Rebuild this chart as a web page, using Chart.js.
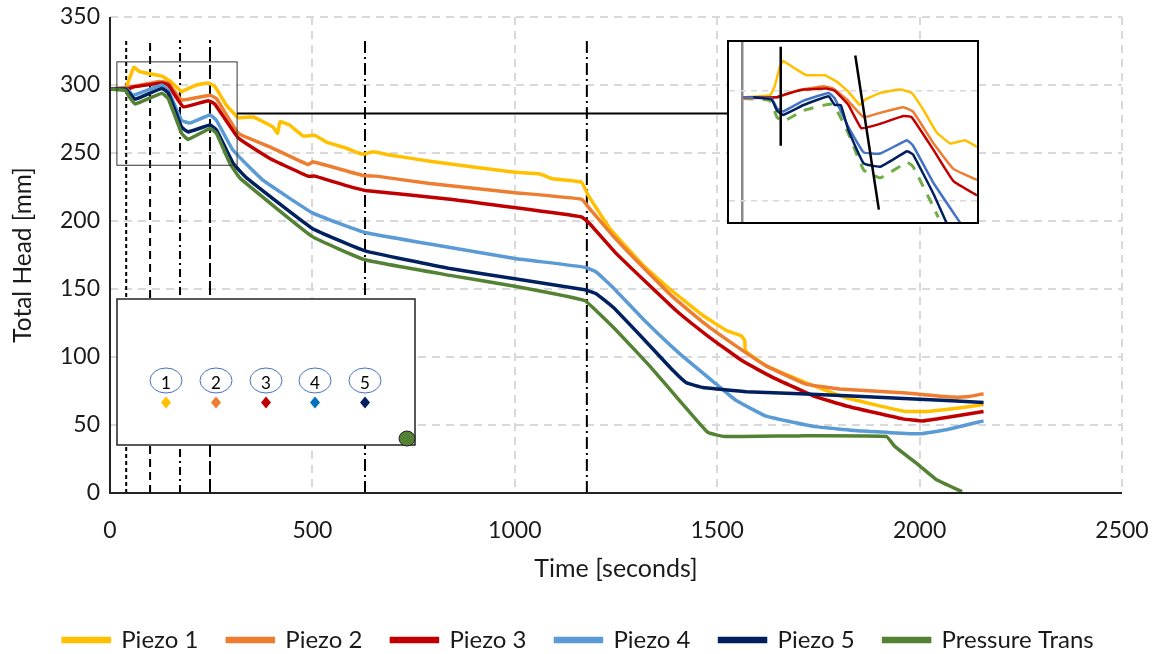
<!DOCTYPE html>
<html>
<head>
<meta charset="utf-8">
<script src="https://cdn.jsdelivr.net/npm/chart.js@4"></script>
<style>
  html, body { margin: 0; padding: 0; background: #fff; }
  #wrap { position: relative; width: 1157px; height: 654px; overflow: hidden; }
  #inset { position: absolute; left: 727px; top: 40px; width: 252px; height: 184px; box-sizing: border-box; border: 2px solid #000; background: #fff; }
</style>
</head>
<body>
<div id="wrap">
  <canvas id="main" width="1157" height="654"></canvas>
  <div id="inset"><canvas id="zoomed" width="248" height="180"></canvas></div>
</div>
<script>
// values
const names = ["Piezo 1", "Piezo 2", "Piezo 3", "Piezo 4", "Piezo 5", "Pressure Trans"];
const colors = ["#FFC000", "#ED7D31", "#C00000", "#5B9BD5", "#002060", "#548235"];
const xTicks = [0, 500, 1000, 1500, 2000, 2500];

const p1Time = [0, 35, 41, 59, 72, 86, 128, 152, 177, 183, 214, 243, 259, 288, 317, 354, 403, 414, 420, 444, 477, 506, 535, 584, 625, 650, 691, 790, 995, 1062, 1094, 1165, 1181, 1235, 1317, 1383, 1465, 1523, 1560, 1568, 1570, 1621, 1728, 1819, 1963, 2016, 2082, 2158];
const p1Head = [297, 297, 299, 313, 310, 309, 306.5, 302, 295, 296, 300, 301.5, 299, 285, 276, 276.5, 269, 264.5, 273, 270.5, 262.5, 263, 258, 253.5, 249, 251, 248.5, 244, 236, 234.5, 231, 228.5, 219, 194.5, 167.5, 150, 130.5, 119.5, 115.5, 112, 104.5, 93.5, 80, 70, 60, 60, 62, 65];
const p2Time = [0, 49, 123, 144, 177, 247, 263, 317, 395, 489, 501, 625, 658, 790, 995, 1165, 1185, 1243, 1317, 1391, 1465, 1547, 1621, 1720, 1802, 1967, 2082, 2123, 2158];
const p2Head = [297, 298.5, 302.5, 301.5, 289, 292.5, 290, 264.5, 254.5, 241.5, 243.5, 233.5, 233, 227.5, 221, 216, 209, 189, 166, 144, 125.5, 108, 93.5, 80, 76.5, 73.5, 70.5, 71, 73];
const p3Time = [0, 45, 57, 128, 144, 181, 243, 259, 317, 395, 489, 506, 584, 630, 840, 1165, 1185, 1251, 1333, 1399, 1481, 1563, 1637, 1737, 1819, 1958, 2008, 2066, 2158];
const p3Head = [297, 297, 298.5, 301.5, 300, 284, 288.5, 286, 261, 246, 233, 233, 226, 222.5, 216, 203, 198, 176, 152.5, 134, 114.5, 97, 85, 71.5, 64, 54.5, 53, 55.5, 60];
const p4Time = [0, 35, 45, 57, 128, 144, 177, 197, 247, 263, 304, 378, 500, 630, 840, 1000, 1173, 1201, 1243, 1325, 1407, 1498, 1547, 1621, 1737, 1860, 2000, 2066, 2158];
const p4Head = [297, 297, 296, 292.5, 300, 296, 274, 272, 278, 274, 252, 230, 206, 191.5, 180.5, 172.5, 166, 162.5, 151, 125.5, 102.5, 80, 68, 56.5, 49, 45.5, 43.5, 46.5, 53];
const p5Time = [0, 38, 45, 62, 128, 144, 177, 193, 247, 263, 304, 338, 500, 630, 840, 1000, 1173, 1201, 1243, 1325, 1391, 1424, 1465, 1572, 1704, 1819, 2000, 2158];
const p5Head = [297, 297, 295, 289.5, 297.5, 294, 269, 265.5, 270.5, 267, 242.5, 231.5, 194.5, 178, 165, 157.5, 149.5, 146.5, 136.5, 111, 90, 81, 77.5, 74.5, 73, 71.5, 69, 66.5];
const p6Time = [0, 38, 45, 62, 128, 144, 177, 193, 247, 263, 296, 321, 500, 630, 840, 1000, 1173, 1201, 1251, 1333, 1407, 1477, 1519, 1700, 1918, 1938, 2000, 2041, 2105];
const p6Head = [297, 296, 292.5, 286, 294, 290, 264.5, 260, 268, 264.5, 242.5, 231.5, 188.5, 171.5, 160, 152, 141.5, 134, 119.5, 93.5, 68, 44.5, 41.5, 42, 41.5, 34.5, 20, 10, 1];

const z1Time = [2, 37, 43, 50, 54, 70, 85, 109, 125, 140, 155, 162, 182, 208, 223, 239, 256, 274, 293, 309];
const z1Head = [297, 298, 302, 311, 313.5, 310, 307, 307, 304, 299.5, 293.5, 296, 299, 300.5, 299, 291, 281, 276, 277.5, 274.5];
const z2Time = [2, 46, 72, 107, 120, 138, 160, 182, 212, 225, 252, 278, 309];
const z2Head = [296.5, 297, 300, 302, 301, 296, 288, 290, 292.5, 290.5, 276, 264.5, 259.5];
const z3Time = [2, 46, 54, 81, 111, 122, 140, 157, 182, 212, 223, 252, 278, 309];
const z3Head = [297, 297, 298, 300.5, 301, 300, 293.5, 283, 285, 288.5, 288, 273, 259, 252.5];
const z4Time = [2, 39, 46, 54, 81, 114, 122, 140, 160, 182, 217, 225, 252, 287];
const z4Head = [297, 296.5, 292, 290.5, 295.5, 299, 296.5, 283.5, 272, 271.5, 277.5, 275, 258, 240];
const z5Time = [15, 39, 46, 54, 81, 114, 122, 130, 140, 160, 182, 217, 225, 252, 269];
const z5Head = [297, 296, 291, 289, 293.5, 297.5, 293.5, 293.5, 282, 267, 265.5, 272.5, 271, 253, 240];
const z6Time = [2, 37, 46, 54, 81, 116, 125, 140, 160, 182, 217, 225, 252, 258];
const z6Head = [296.5, 295.5, 288, 286, 291, 294, 291, 280.5, 264, 260.5, 267.5, 265.5, 247, 242.5];
const zoomColors = ["#FFC000", "#ED7D31", "#C00000", "#4472C4", "#002060", "#70AD47"];

// vertical test markers
const eventTimes = [40, 99, 173, 247, 630, 1178];
const eventDashes = [[4, 3], [8, 5], [8, 4, 2, 4], [14, 4], [12, 4, 2, 4], [12, 4, 2, 4]];
const eventTop = 333;

const sensorLabels = ["1", "2", "3", "4", "5"];
const sensorColors = ["#FFC000", "#ED7D31", "#C00000", "#0070C0", "#002060"];
const sensorX = [166, 216, 266, 315, 365];

const FONT = "Lato, 'Open Sans', sans-serif";
const INK = "#1a1a1a";

function zip(xs, ys) {
    return xs.map((x, i) => ({ x: x, y: ys[i] }));
}

const mainSets = [
    [p1Time, p1Head], [p2Time, p2Head], [p3Time, p3Head],
    [p4Time, p4Head], [p5Time, p5Head], [p6Time, p6Head]
].map((s, i) => ({
    label: names[i],
    data: zip(s[0], s[1]),
    borderColor: colors[i],
    backgroundColor: colors[i],
    borderWidth: 3.5,
    pointRadius: 0,
    tension: 0.1,
    order: 10 - i
}));

const eventSets = eventTimes.map((t, i) => ({
    label: "event" + i,
    data: [{ x: t, y: 0 }, { x: t, y: eventTop }],
    borderColor: "#000",
    borderWidth: 2,
    borderDash: eventDashes[i],
    pointRadius: 0,
    order: 20
}));

// axis lines, boxes and the sensor sketch, painted on top of the curves
const overlay = {
    id: "overlay",
    afterLayout(chart) {
        // legend sits lower than the layout puts it
        chart.legend.top += 9;
        chart.legend.bottom += 9;
    },
    afterDraw(chart) {
        const c = chart.ctx, xs = chart.scales.x, ys = chart.scales.y, area = chart.chartArea;
        c.save();

        c.strokeStyle = "#222";
        c.lineWidth = 2;
        c.beginPath();
        c.moveTo(area.left, area.top);
        c.lineTo(area.left, area.bottom);
        c.lineTo(area.right, area.bottom);
        c.stroke();

        // outline of the region shown in the inset
        const l = xs.getPixelForValue(17), r = xs.getPixelForValue(314);
        const t = ys.getPixelForValue(317), b = ys.getPixelForValue(241);
        c.strokeStyle = "#333";
        c.lineWidth = 1;
        c.strokeRect(l, t, r - l, b - t);

        const my = ys.getPixelForValue(279);
        c.strokeStyle = "#000";
        c.lineWidth = 2;
        c.beginPath();
        c.moveTo(r, my);
        c.lineTo(728, my);
        c.stroke();

        // sensor sketch
        c.fillStyle = "#fff";
        c.fillRect(117, 299, 298, 146);
        c.strokeStyle = "#222";
        c.lineWidth = 1.5;
        c.strokeRect(117, 299, 298, 146);
        sensorLabels.forEach((s, i) => {
            const x = sensorX[i];
            c.beginPath();
            c.ellipse(x, 380.5, 16, 12.5, 0, 0, Math.PI * 2);
            c.strokeStyle = "#4472C4";
            c.lineWidth = 1;
            c.stroke();
            c.fillStyle = "#000";
            c.font = "17px " + FONT;
            c.textAlign = "center";
            c.textBaseline = "middle";
            c.fillText(s, x, 384);
            c.fillStyle = sensorColors[i];
            c.beginPath();
            c.moveTo(x, 396.5);
            c.lineTo(x + 5, 402.5);
            c.lineTo(x, 408.5);
            c.lineTo(x - 5, 402.5);
            c.closePath();
            c.fill();
        });
        c.beginPath();
        c.ellipse(407, 438.5, 8, 7.5, 0, 0, Math.PI * 2);
        c.fillStyle = "#548235";
        c.fill();
        c.strokeStyle = "#222";
        c.lineWidth = 1;
        c.stroke();
        c.restore();
    }
};

new Chart(document.getElementById("main"), {
    type: "scatter",
    data: { datasets: mainSets.concat(eventSets) },
    plugins: [overlay],
    options: {
        responsive: false,
        animation: false,
        showLine: true,
        layout: { padding: { top: 17, right: 0, left: 0, bottom: 1 }, autoPadding: false },
        plugins: {
            tooltip: { enabled: false },
            legend: {
                position: "bottom",
                labels: {
                    color: INK,
                    font: { family: FONT, size: 24 },
                    boxWidth: 46,
                    boxHeight: 3,
                    padding: 29,
                    sort: (a, b) => a.datasetIndex - b.datasetIndex,
                    filter: item => names.includes(item.text)
                }
            }
        },
        scales: {
            x: {
                type: "linear",
                min: 0,
                max: 2500,
                afterBuildTicks: s => { s.ticks = xTicks.map(v => ({ value: v })); },
                grid: { color: "#D9D9D9", lineWidth: 2, drawTicks: false },
                border: { display: false, dash: [8, 6] },
                ticks: { color: INK, font: { family: FONT, size: 23 }, padding: 24, maxRotation: 0, callback: v => String(v) },
                title: { display: true, text: "Time [seconds]", color: INK, font: { family: FONT, size: 25 }, padding: { top: 12, bottom: 6 } },
                afterFit: s => { s.height = 97; s.paddingLeft = 0; s.paddingRight = 0; }
            },
            y: {
                min: 0,
                max: 350,
                grid: { color: "#D9D9D9", lineWidth: 2, drawTicks: false },
                border: { display: false, dash: [8, 6] },
                ticks: { stepSize: 50, color: INK, font: { family: FONT, size: 23 }, padding: 10 },
                title: { display: true, text: "Total Head [mm]", color: INK, font: { family: FONT, size: 24.5 }, padding: { top: 8, bottom: 4 } },
                afterFit: s => { s.width = 110; s.paddingTop = 0; s.paddingBottom = 0; }
            },
            // empty axis, keeps the right margin without narrowing the legend
            spacer: {
                position: "right",
                grid: { display: false },
                border: { display: false },
                ticks: { display: false },
                afterFit: s => { s.width = 35; }
            }
        }
    }
});

const zoomSets = [
    [z1Time, z1Head], [z2Time, z2Head], [z3Time, z3Head],
    [z4Time, z4Head], [z5Time, z5Head], [z6Time, z6Head]
].map((s, i) => ({
    label: names[i],
    data: zip(s[0], s[1]),
    borderColor: zoomColors[i],
    borderWidth: i === 5 ? 3 : 2.5,
    borderDash: i === 5 ? [10, 9] : [],
    pointRadius: 0,
    tension: 0.1,
    order: i === 5 ? 9 : 8 - i
}));

const zoomLines = [
    [[51, 320], [51, 275]],
    [[149, 316], [180, 246]]
].map(p => ({
    data: p.map(q => ({ x: q[0], y: q[1] })),
    borderColor: "#000",
    borderWidth: 2.5,
    pointRadius: 0,
    order: 1
}));

new Chart(document.getElementById("zoomed"), {
    type: "scatter",
    data: { datasets: zoomSets.concat(zoomLines) },
    options: {
        responsive: false,
        animation: false,
        showLine: true,
        layout: { padding: 0, autoPadding: false },
        plugins: { legend: { display: false }, tooltip: { enabled: false } },
        scales: {
            x: {
                type: "linear", min: -17, max: 309, display: true,
                afterBuildTicks: s => { s.ticks = [{ value: 0 }]; },
                grid: { color: "#888", lineWidth: 2.5, drawTicks: false },
                border: { display: false },
                ticks: { display: false },
                afterFit: s => { s.height = 0; s.paddingLeft = 0; s.paddingRight = 0; }
            },
            y: {
                min: 240.4, max: 322.1, display: true,
                afterBuildTicks: s => { s.ticks = [{ value: 250 }, { value: 300 }]; },
                grid: { color: "#D9D9D9", lineWidth: 1.5, drawTicks: false },
                border: { display: false, dash: [6, 5] },
                ticks: { display: false },
                afterFit: s => { s.width = 0; s.paddingTop = 0; s.paddingBottom = 0; }
            }
        }
    }
});
</script>
</body>
</html>
